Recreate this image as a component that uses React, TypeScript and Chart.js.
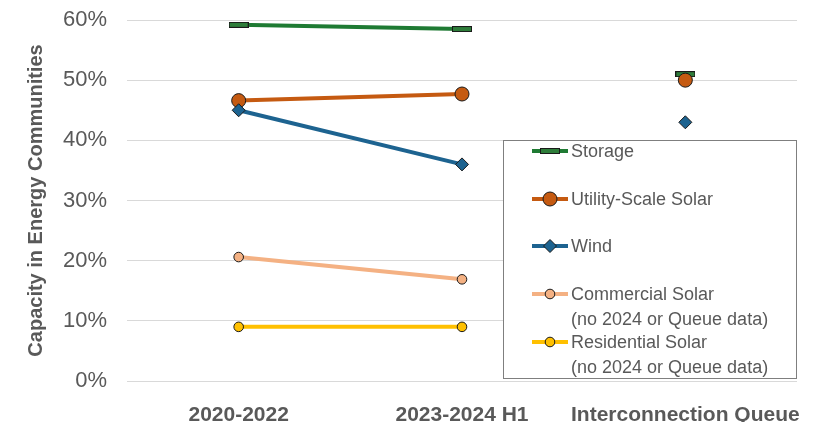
import React, { useEffect, useRef } from "react";
import { Chart, registerables } from "chart.js";

Chart.register(...registerables);

const categories = ["2020-2022", "2023-2024 H1", "Interconnection Queue"];
const storage = [59.2, 58.5, 51];
const utilitySolar = [46.6, 47.7, 50];
const wind = [45, 36, 43];
const commercialSolar = [20.6, 16.9, null];
const residentialSolar = [9, 9, null];
const yTicks = [0, 10, 20, 30, 40, 50, 60];

const legendLabels = [
  ["Storage"],
  ["Utility-Scale Solar"],
  ["Wind"],
  ["Commercial Solar", "(no 2024 or Queue data)"],
  ["Residential Solar", "(no 2024 or Queue data)"],
];

const FONT = "'Liberation Sans', Arial, sans-serif";
const COLORS = ["#1f7a33", "#c55a11", "#1d6390", "#f4b183", "#ffc000"];

function makeDash(): HTMLCanvasElement {
  const c = document.createElement("canvas");
  c.width = 20;
  c.height = 6;
  const ctx = c.getContext("2d")!;
  ctx.fillStyle = "#2e7d3a";
  ctx.fillRect(0.5, 0.5, 19, 5);
  ctx.strokeStyle = "#1a1a1a";
  ctx.lineWidth = 1;
  ctx.strokeRect(0.5, 0.5, 19, 5);
  return c;
}

export default function App() {
  const ref = useRef<HTMLCanvasElement | null>(null);

  useEffect(() => {
    document.body.style.margin = "0";
    const dash = makeDash();
    const hideLast = (color: string) => (ctx: any) =>
      ctx.p1DataIndex === 2 ? "rgba(0,0,0,0)" : color;

    const markerStyles: any[] = [
      { pointStyle: dash, radius: 10 },
      { pointStyle: "circle", radius: 7, fill: COLORS[1] },
      { pointStyle: "rectRot", radius: 6.5, fill: COLORS[2] },
      { pointStyle: "circle", radius: 4.8, fill: COLORS[3] },
      { pointStyle: "circle", radius: 4.8, fill: COLORS[4] },
    ];
    const seriesData = [storage, utilitySolar, wind, commercialSolar, residentialSolar];

    const datasets = seriesData.map((d, i) => ({
      label: legendLabels[i][0],
      data: d,
      borderColor: COLORS[i],
      borderWidth: 4,
      pointStyle: markerStyles[i].pointStyle,
      pointRadius: markerStyles[i].radius,
      pointBackgroundColor: markerStyles[i].fill || COLORS[i],
      pointBorderColor: "#1a1a1a",
      pointBorderWidth: 1,
      spanGaps: false,
      segment: { borderColor: hideLast(COLORS[i]) },
      order: 5 - i,
    }));

    const legendPlugin = {
      id: "boxLegend",
      afterDraw(chart: any) {
        const ctx = chart.ctx;
        ctx.save();
        const left = 503.5, top = 140.5, right = 796.5, bottom = 378.5;
        ctx.fillStyle = "#ffffff";
        ctx.fillRect(left, top, right - left, bottom - top);
        ctx.strokeStyle = "#7f7f7f";
        ctx.lineWidth = 1;
        ctx.strokeRect(left, top, right - left, bottom - top);
        const rows = [151, 199, 246, 294, 342];
        rows.forEach((y, i) => {
          ctx.strokeStyle = COLORS[i];
          ctx.lineWidth = 4;
          ctx.beginPath();
          ctx.moveTo(532, y);
          ctx.lineTo(568, y);
          ctx.stroke();
          const m = markerStyles[i];
          const cx = 550;
          if (i === 0) {
            ctx.drawImage(dash, cx - 10, y - 3);
          } else if (m.pointStyle === "circle") {
            const r = i === 1 ? 7 : 4.8;
            ctx.beginPath();
            ctx.arc(cx, y, r, 0, Math.PI * 2);
            ctx.fillStyle = m.fill;
            ctx.fill();
            ctx.lineWidth = 1;
            ctx.strokeStyle = "#1a1a1a";
            ctx.stroke();
          } else {
            const r = 6.5;
            ctx.beginPath();
            ctx.moveTo(cx - r, y);
            ctx.lineTo(cx, y - r);
            ctx.lineTo(cx + r, y);
            ctx.lineTo(cx, y + r);
            ctx.closePath();
            ctx.fillStyle = m.fill;
            ctx.fill();
            ctx.lineWidth = 1;
            ctx.strokeStyle = "#1a1a1a";
            ctx.stroke();
          }
          ctx.fillStyle = "#595959";
          ctx.font = `18px ${FONT}`;
          ctx.textAlign = "left";
          ctx.textBaseline = "middle";
          legendLabels[i].forEach((t, k) => {
            ctx.fillText(t, 571, y + 1 + k * 25);
          });
        });
        ctx.restore();
      },
    };

    const chart = new Chart(ref.current!, {
      type: "line",
      data: { labels: categories, datasets: datasets as any },
      options: {
        animation: false,
        responsive: false,
        layout: { padding: { top: 20, right: 21, left: 0, bottom: 0 } },
        plugins: { legend: { display: false }, tooltip: { enabled: false } },
        scales: {
          x: {
            offset: true,
            grid: { display: false },
            border: { display: false },
            ticks: {
              color: "#595959",
              font: { family: FONT, size: 21, weight: "bold" },
              padding: 14,
              maxRotation: 0,
              autoSkip: false,
            },
            afterFit(scale: any) {
              scale.height = 41;
              scale.paddingLeft = 0;
              scale.paddingRight = 0;
            },
          },
          y: {
            min: 0,
            max: 60,
            afterBuildTicks(scale: any) {
              scale.ticks = yTicks.map((v) => ({ value: v }));
            },
            grid: { color: "#d9d9d9", lineWidth: 1, drawTicks: false },
            border: { display: false },
            ticks: {
              color: "#595959",
              font: { family: FONT, size: 22 },
              padding: 20,
              callback: (v: any) => v + "%",
            },
            title: {
              display: true,
              text: "Capacity in Energy Communities",
              color: "#595959",
              font: { family: FONT, size: 20, weight: "bold" },
              padding: { top: 24, bottom: 0 },
            },
            afterFit(scale: any) {
              scale.width = 127;
              scale.paddingTop = 0;
              scale.paddingBottom = 0;
            },
          },
        },
      },
      plugins: [legendPlugin],
    });
    return () => chart.destroy();
  }, []);

  return (
    <div style={{ width: 818, height: 422 }}>
      <canvas ref={ref} width={818} height={422} />
    </div>
  );
}
